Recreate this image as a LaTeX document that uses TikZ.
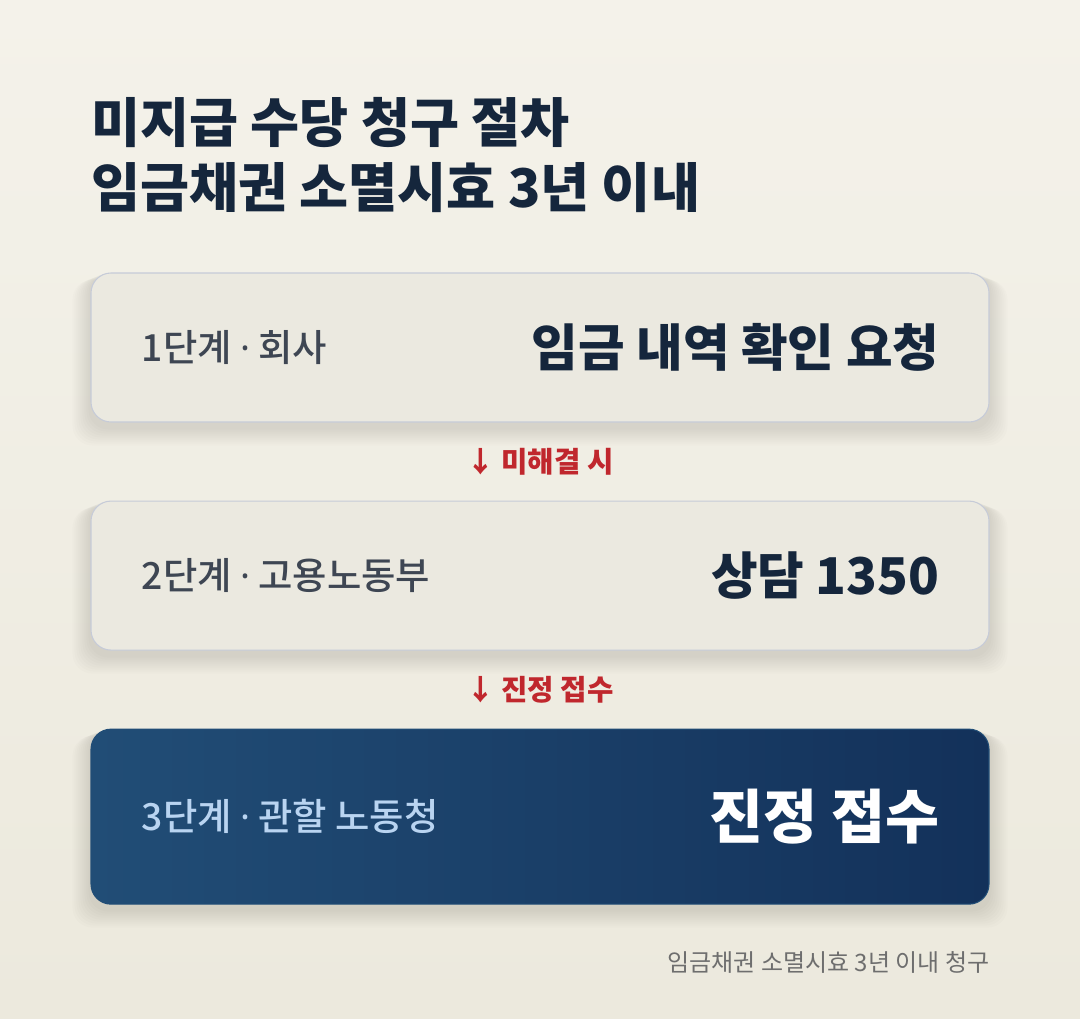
\documentclass[tikz,border=0pt]{standalone}
\usepackage{fontspec}
\newfontfamily\cjk{Noto Sans CJK KR}
\newfontfamily\cjkmed{Noto Sans CJK KR Medium}
\newfontfamily\latin{Noto Sans}
\usetikzlibrary{positioning,calc,backgrounds}

\definecolor{bgtop}{HTML}{F4F2EA}
\definecolor{bgbot}{HTML}{ECE9DD}
\definecolor{ink}{HTML}{15263C}
\definecolor{labelgray}{HTML}{3E4653}
\definecolor{boxfill}{HTML}{EBE9E0}
\definecolor{boxline}{HTML}{C6CBD8}
\definecolor{navyA}{HTML}{214D76}
\definecolor{navyB}{HTML}{13315A}
\definecolor{paleblue}{HTML}{B9D4F1}
\definecolor{alertred}{HTML}{C0272D}
\definecolor{footgray}{HTML}{6E6E6E}

\newcommand{\sep}{\ {\latin ·}\ }

\begin{document}
\begin{tikzpicture}[x=0.75pt,y=-0.75pt,node distance=58.5pt,
    stage node/.style={rectangle,rounded corners=15pt,draw=boxline,line width=0.8pt,
      fill=boxfill,minimum width=673.5pt,minimum height=111.75pt},
    final node/.style={stage node,draw=navyA,left color=navyA,right color=navyB,minimum height=131.25pt},
    stage label/.style={font=\cjkmed\fontsize{28}{33}\selectfont,text=labelgray,inner sep=0pt},
    stage title/.style={font=\cjk\bfseries\fontsize{38}{46}\selectfont,text=ink,inner sep=0pt},
    flow label/.style={font=\cjk\bfseries\fontsize{21.5}{26}\selectfont,text=alertred},
    title/.style={font=\cjk\bfseries\fontsize{40}{48}\selectfont,text=ink,anchor=base west,inner sep=0pt}]

    \node[title] (head1) at (91,142) {미지급 수당 청구 절차};
    \node[title] (head2) at (91,207) {임금채권 소멸시효 3년 이내};

    \node[stage node] (1) at (540,347.5) {};
    \node[stage node] (2) [below=of 1] {};
    \node[final node] (3) [below=of 2] {};

    \node[stage label] (1l) [right=38.25pt of 1.west] {1단계\sep 회사};
    \node[stage title] (1t) [left=37.5pt of 1.east] {임금 내역 확인 요청};
    \node[stage label] (2l) [right=38.25pt of 2.west] {2단계\sep 고용노동부};
    \node[stage title] (2t) [left=37.5pt of 2.east] {상담 1350};
    \node[stage label,text=paleblue] (3l) [right=38.25pt of 3.west] {3단계\sep 관할 노동청};
    \node[stage title,text=white,font=\cjk\bfseries\fontsize{44}{52}\selectfont] (3t) [left=37.5pt of 3.east] {진정 접수};

    \node[flow label] (a1) at ($(1.south)!0.5!(2.north)$) {↓ 미해결 시};
    \node[flow label] (a2) at ($(2.south)!0.5!(3.north)$) {↓ 진정 접수};

    \node[font=\cjk\fontsize{18}{22}\selectfont,text=footgray,inner sep=0pt]
        (note) [below left=35pt and 0pt of 3.south east] {임금채권 소멸시효 3년 이내 청구};

    % page and soft shadows
    \begin{scope}[on background layer]
    \fill[top color=bgtop,bottom color=bgbot] (0,0) rectangle (1080,1018);
    \foreach \n in {1,2,3}
      \foreach \r in {2,4,...,18}
        \fill[black,opacity=0.013,rounded corners=15pt]
          ([shift={(-\r,\r*0.4)}]\n.north west) rectangle ([shift={(\r,\r+5)}]\n.south east);
    \end{scope}
    \useasboundingbox (0,0) rectangle (1080,1018);
\end{tikzpicture}
\end{document}
